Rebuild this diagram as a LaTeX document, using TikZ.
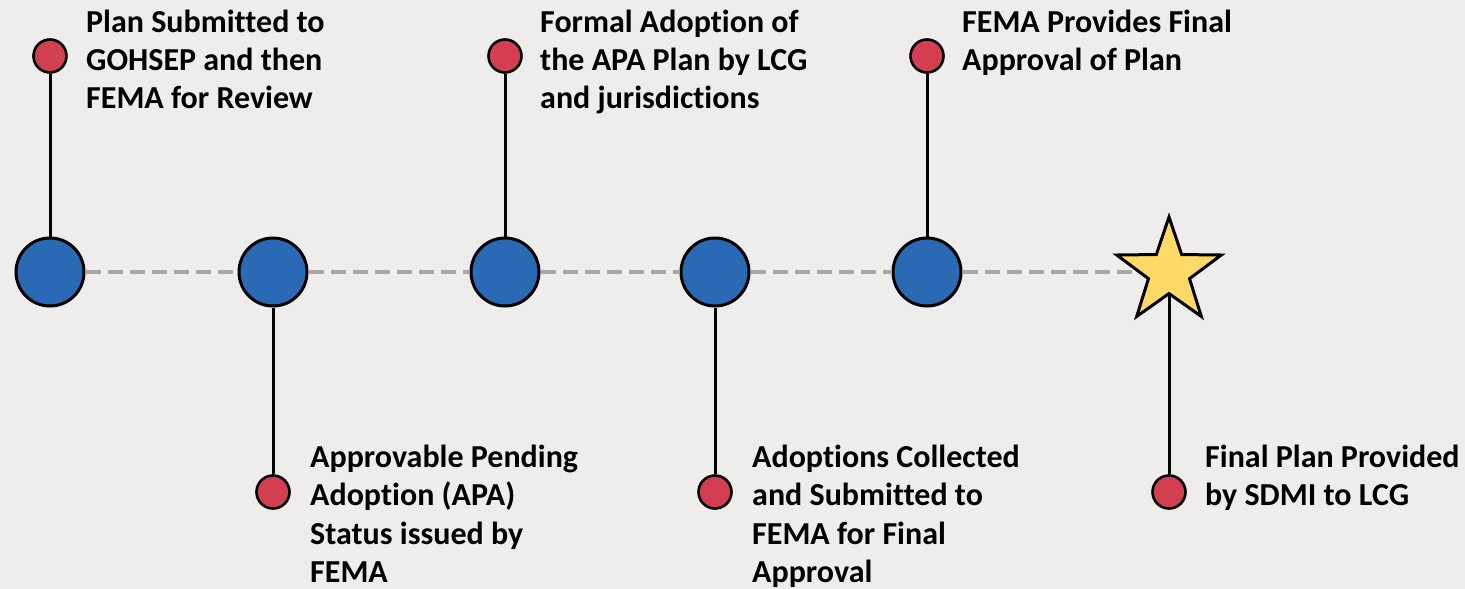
\documentclass[tikz,border=0pt]{standalone}
\usepackage{fontspec}
\setmainfont{Carlito}[Ligatures=NoCommon]
\usetikzlibrary{shapes.geometric}
\definecolor{bgc}{HTML}{EFEDEB}
\definecolor{bluec}{HTML}{2A6AB4}
\definecolor{redc}{HTML}{D33F50}
\definecolor{starc}{HTML}{FFD966}
\definecolor{dashc}{HTML}{A6A6A6}
\begin{document}
\begin{tikzpicture}[x=1pt,y=-1pt,
  milestone/.style={circle,draw=black,line width=3pt,fill=bluec,minimum size=68pt,inner sep=0pt},
  event/.style={circle,draw=black,line width=2.6pt,fill=redc,minimum size=33pt,inner sep=0pt},
  goal/.style={star,star points=5,star point ratio=2.55,draw=black,line width=3pt,fill=starc,minimum size=110pt,inner sep=0pt},
  stem/.style={draw=black,line width=3pt},
  track/.style={draw=dashc,line width=3.5pt,dash pattern=on 15pt off 7pt},
  label/.style={anchor=base west,inner sep=0pt,font=\fontsize{32}{38.5}\selectfont\bfseries}]
\useasboundingbox[fill=bgc] (0,0) rectangle (1465,589);
% milestones
\node[milestone] (b1) at (50,272) {};
\node[milestone] (b2) at (273,272) {};
\node[milestone] (b3) at (505,272) {};
\node[milestone] (b4) at (715,272) {};
\node[milestone] (b5) at (927,272) {};
\node[goal] (s6) at (1169,272) {};
% events
\node[event] (r1) at (50,56) {};
\node[event] (r2) at (273,492) {};
\node[event] (r3) at (505,56) {};
\node[event] (r4) at (715,492) {};
\node[event] (r5) at (927,56) {};
\node[event] (r6) at (1169,492) {};
% track
\draw[track] (b1) -- (b2);
\draw[track] (b2) -- (b3);
\draw[track] (b3) -- (b4);
\draw[track] (b4) -- (b5);
\draw[track] (b5) -- (s6);
% stems
\draw[stem] (r1) -- (b1);
\draw[stem] (r2) -- (b2);
\draw[stem] (r3) -- (b3);
\draw[stem] (r4) -- (b4);
\draw[stem] (r5) -- (b5);
\draw[stem] (r6) -- (s6);
% labels
\node[label] (t1) at (86,32) {\parbox[t]{400pt}{Plan Submitted to\\GOHSEP and then\\FEMA for Review}};
\node[label] (t3) at (540,32) {\parbox[t]{400pt}{Formal Adoption of\\the APA Plan by LCG\\and jurisdictions}};
\node[label] (t5) at (962,32) {\parbox[t]{400pt}{FEMA Provides Final\\Approval of Plan}};
\node[label] (t2) at (310,467) {\parbox[t]{400pt}{Approvable Pending\\Adoption (APA)\\Status issued by\\FEMA}};
\node[label] (t4) at (752,467) {\parbox[t]{400pt}{Adoptions Collected\\and Submitted to\\FEMA for Final\\Approval}};
\node[label] (t6) at (1205,467) {\parbox[t]{400pt}{Final Plan Provided\\by SDMI to LCG}};
\end{tikzpicture}
\end{document}
